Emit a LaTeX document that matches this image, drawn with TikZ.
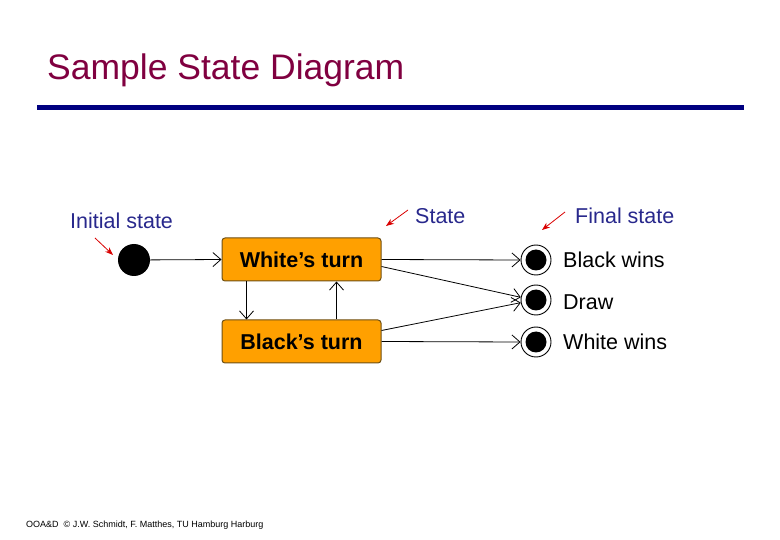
\documentclass[tikz,border=0pt]{standalone}
\usepackage{fontspec}
\setmainfont{Liberation Sans}
\usetikzlibrary{arrows.meta}
\definecolor{titlec}{RGB}{128,0,64}
\definecolor{navy}{RGB}{0,0,128}
\definecolor{lblc}{RGB}{40,40,140}
\definecolor{boxc}{RGB}{255,160,0}
\definecolor{boxd}{RGB}{110,80,20}
\begin{document}
\begin{tikzpicture}[x=1pt,y=-1pt,
  statebox/.style={draw=boxd,fill=boxc,rounded corners=3pt,minimum width=159pt,minimum height=43pt,font=\bfseries\fontsize{21.5}{24}\selectfont,line width=1pt},
  trans/.style={-{Straight Barb[length=8pt,width=14pt]},line width=0.8pt},
  note/.style={-{Stealth[length=8pt,width=6pt]},red!85!black,line width=0.8pt},
  lbl/.style={text=lblc,font=\fontsize{21.5}{24}\selectfont,inner sep=0pt,anchor=base west},
  flbl/.style={font=\fontsize{21.5}{24}\selectfont,inner sep=0pt,anchor=base west},
  fin/.style={circle,draw,line width=0.9pt,minimum size=30pt,inner sep=0pt,path picture={\fill (path picture bounding box.center) circle (10.5pt);}}]
\useasboundingbox (0,0) rectangle (780,540);
\node[anchor=base west,inner sep=0pt,text=titlec,font=\fontsize{35.5}{40}\selectfont] (title) at (47,80) {Sample State Diagram};
\fill[navy] (37,105) rectangle (744,110);
\node[circle,fill=black,minimum size=32pt,inner sep=0pt] (init) at (134,260) {};
\node[statebox] (white) at (301.5,259.5) {White’s turn};
\node[statebox] (black) at (301.5,341.5) {Black’s turn};
\node[fin] (bw) at (536,260) {};
\node[fin] (dr) at (536,300) {};
\node[fin] (ww) at (536,342) {};
\node[flbl] (lbw) at (563,268) {Black wins};
\node[flbl] (ldr) at (563,310) {Draw};
\node[flbl] (lww) at (563,350) {White wins};
\node[lbl] (li) at (70,229) {Initial state};
\node[lbl] (ls) at (415,224) {State};
\node[lbl] (lf) at (575,224) {Final state};
\coordinate (n1) at (95,238); \coordinate (n1e) at (113,255);
\coordinate (n2) at (408,210); \coordinate (n2e) at (386,226);
\coordinate (n3) at (565,212); \coordinate (n3e) at (542,230);
\draw[note] (n1) -- (n1e);
\draw[note] (n2) -- (n2e);
\draw[note] (n3) -- (n3e);
\draw[trans] (init) -- (white.west);
\draw[trans] ([xshift=-55pt]white.south) -- ([xshift=-55pt]black.north);
\draw[trans] ([xshift=35pt]black.north) -- ([xshift=35pt]white.south);
\draw[trans] (white.east) -- (bw.west);
\draw[trans] ([yshift=-7pt]white.east) -- (dr.170);
\draw[trans] ([yshift=11pt]black.east) -- (dr.190);
\draw[trans] (black.east) -- (ww.west);
\node[anchor=base west,inner sep=0pt,font=\fontsize{9}{10}\selectfont] (foot) at (26,527) {OOA\&D \ \textcopyright\ J.W. Schmidt, F. Matthes, TU Hamburg Harburg};
\end{tikzpicture}
\end{document}
